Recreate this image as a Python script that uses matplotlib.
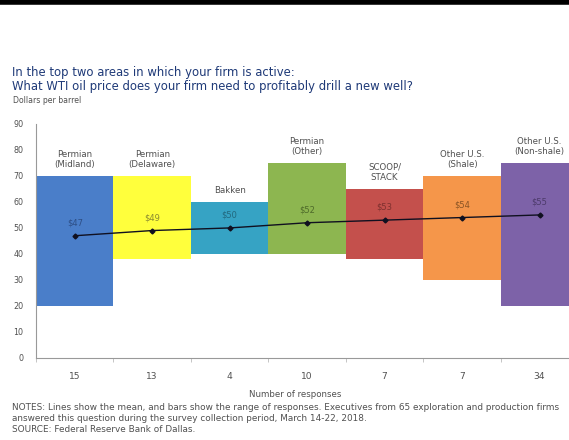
import matplotlib
import numpy as np

matplotlib.use('Agg')
import matplotlib.pyplot as plt

# данные с графика
areas = ['Permian\n(Midland)', 'Permian\n(Delaware)', 'Bakken', 'Permian\n(Other)',
         'SCOOP/\nSTACK', 'Other U.S.\n(Shale)', 'Other U.S.\n(Non-shale)']
responses = ['15', '13', '4', '10', '7', '7', '34']
low = [20, 38, 40, 40, 38, 30, 20]
high = [70, 70, 60, 75, 65, 70, 75]
mean = [47, 49, 50, 52, 53, 54, 55]

colors = ['#4A7EC9', '#FFFF3C', '#36A3C4', '#8DB650', '#C4504C', '#F5964A', '#7D62A8']
text_colors = ['#2E4F86', '#8A8A30', '#22687E', '#4E6A2A', '#7E302E', '#8A5424', '#4C3A6A']

fig = plt.figure(figsize=(5.69, 4.4), dpi=100)

# черная линия сверху
fig.add_artist(plt.Line2D([0, 1], [0.996, 0.996], color='black', linewidth=4))

fig.text(0.021, 0.835, 'In the top two areas in which your firm is active:', fontsize=8.4,
         color='#1F3A78', ha='left', va='center')
fig.text(0.021, 0.803, 'What WTI oil price does your firm need to profitably drill a new well?', fontsize=8.4,
         color='#1F3A78', ha='left', va='center')
fig.text(0.023, 0.771, 'Dollars per barrel', fontsize=5.6, color='#505050', ha='left', va='center')

ax = fig.add_axes([0.0633, 0.1864, 0.953, 0.532])
x = np.arange(len(areas)) + 0.5

ax.bar(x, np.array(high) - np.array(low), bottom=low, width=1.0, color=colors, linewidth=0)
ax.plot(x, mean, color='#101020', linewidth=1.0, marker='D', markersize=2.5, zorder=3)

for i in range(len(areas)):
    ax.text(x[i], mean[i] + 5, f'${mean[i]}', fontsize=6, color=text_colors[i], ha='center', va='center')
    ax.text(x[i], high[i] + 2.5, areas[i], fontsize=6.2, color='#505050', ha='center', va='bottom',
            linespacing=1.25)

ax.set_xlim(0, 7)
ax.set_ylim(0, 90)
ax.set_yticks(range(0, 91, 10))
ax.set_xticks(x)
ax.set_xticklabels(responses)
ax.set_xticks(np.arange(0, 8), minor=True)
ax.tick_params(axis='y', length=0, labelsize=5.8, labelcolor='#505050', pad=9)
ax.tick_params(axis='x', which='major', length=0, labelsize=6.6, labelcolor='#505050', pad=10)
ax.tick_params(axis='x', which='minor', length=3, color='#BBBBBB', direction='out')

for side in ['top', 'right']:
    ax.spines[side].set_visible(False)
ax.spines['left'].set_color('#999999')
ax.spines['bottom'].set_color('#999999')
ax.spines['left'].set_linewidth(0.8)
ax.spines['bottom'].set_linewidth(0.8)

fig.text(0.518, 0.103, 'Number of responses', fontsize=6.2, color='#505050', ha='center', va='center')
fig.text(0.021, 0.073, 'NOTES: Lines show the mean, and bars show the range of responses. Executives from 65 '
         'exploration and production firms', fontsize=6.4, color='#505050', ha='left', va='center')
fig.text(0.021, 0.049, 'answered this question during the survey collection period, March 14-22, 2018.',
         fontsize=6.4, color='#505050', ha='left', va='center')
fig.text(0.021, 0.025, 'SOURCE: Federal Reserve Bank of Dallas.', fontsize=6.4, color='#505050',
         ha='left', va='center')

fig.savefig('out.png', dpi=100)
